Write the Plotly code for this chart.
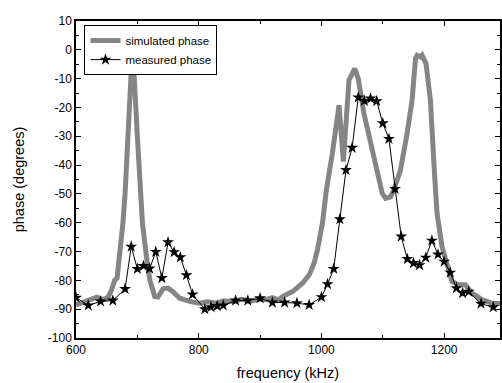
import plotly.graph_objects as go

# Simulated phase (gray thick line)
sim_freq = [600, 610, 617, 626, 634, 644, 652, 658, 663, 667, 671.5, 676.5, 680, 685, 690.5, 692.5, 694.7,
            700, 706.7, 708.3, 714.8, 720.2, 728.3, 733.6, 741.8, 749.9, 758, 768.9, 785.1, 801.4,
            815, 828.5, 840, 855.4, 870, 885, 897, 909.7, 920, 930, 936.6, 952.9, 969.1, 980, 988.1,
            993.5, 1001.6, 1008.1, 1017.8, 1028.7, 1035.7, 1044.9, 1054.2, 1060, 1069.3, 1082.8,
            1090.9, 1099, 1104.6, 1112.7, 1118, 1128.9, 1139.6, 1147.7, 1153.3, 1155.9, 1161.4,
            1164, 1170.5, 1177.6, 1184, 1188.4, 1196.5, 1204.6, 1212.7, 1223.6, 1234.5, 1245.2,
            1261.4, 1277.7, 1291]
sim_phase = [-88.5, -87.8, -87.3, -86.5, -85.8, -86.7, -86.0, -83.3, -80.0, -79.2, -71.7, -60.0, -50.0,
             -27.0, -5.3, -6.0, -8.8, -30.0, -52.0, -60.2, -71.7, -79.8, -85.6, -85.8, -82.9, -82.7,
             -83.9, -86.2, -87.3, -87.9, -87.4, -87.9, -87.2, -87.3, -86.6, -87.2, -86.5, -86.7,
             -86.0, -86.8, -85.6, -83.9, -81.0, -78.1, -74.0, -69.4, -60.2, -48.6, -35.9, -19.2,
             -38.8, -10.5, -6.5, -10.0, -22.1, -34.8, -42.9, -49.8, -51.5, -51.0, -48.6, -41.7,
             -29.0, -17.5, -3.0, -1.9, -2.5, -1.9, -4.8, -17.5, -42.0, -56.7, -68.3, -75.2, -80.4,
             -81.5, -81.5, -84.4, -86.7, -87.9, -88.0]

# Measured phase (black line with stars)
meas_freq = [600, 620, 640, 660, 680, 690, 700, 710, 720, 730, 740, 750, 760, 770, 780, 790, 810, 820,
             830, 840, 860, 880, 900, 920, 940, 960, 980, 1000, 1010, 1020, 1030, 1040, 1050, 1060,
             1070, 1080, 1090, 1100, 1110, 1120, 1130, 1140, 1150, 1160, 1170, 1180, 1190, 1200,
             1210, 1220, 1230, 1240, 1260, 1280]
meas_phase = [-86.0, -88.7, -87.3, -87.0, -83.0, -68.3, -76.0, -75.0, -75.9, -70.1, -79.2, -66.8, -70.2,
              -72.0, -78.2, -84.9, -90.0, -89.3, -88.9, -88.7, -87.0, -87.0, -86.2, -87.7, -87.7,
              -87.9, -88.5, -85.8, -81.3, -76.0, -58.8, -41.7, -34.0, -16.5, -17.7, -16.9, -17.8,
              -25.5, -30.9, -48.3, -64.8, -72.6, -74.0, -74.7, -72.1, -66.2, -71.0, -73.5, -77.3,
              -82.7, -84.4, -83.9, -88.1, -89.3]

y_tickvals = [10, 0, -10, -20, -30, -40, -50, -60, -70, -80, -90, -100]
y_ticktext = ["10", "0", "-10", "-20", "-30", "-40", "-50", "-60", "-70", "-80", "-90", "-100"]
x_tickvals = [600, 800, 1000, 1200]
x_ticktext = ["600", "800", "1000", "1200"]

FONT = "Liberation Sans, Arial, sans-serif"

fig = go.Figure()
fig.add_trace(go.Scatter(x=sim_freq, y=sim_phase, mode="lines", name="simulated phase",
                         line=dict(color="#858585", width=5)))
fig.add_trace(go.Scatter(x=meas_freq, y=meas_phase, mode="lines+markers", name="measured phase",
                         line=dict(color="black", width=1),
                         marker=dict(symbol="star", size=9, color="black")))

axis_common = dict(showline=True, linecolor="black", linewidth=1.5, mirror="ticks",
                   ticks="inside", ticklen=5, tickcolor="black", tickwidth=1,
                   showgrid=False, zeroline=False,
                   tickfont=dict(family=FONT, size=12, color="black"))

fig.update_xaxes(range=[600, 1291], tickvals=x_tickvals, ticktext=x_ticktext,
                 title=dict(text="frequency (kHz)", font=dict(family=FONT, size=14.5, color="black"),
                            standoff=12),
                 minor=dict(ticks="inside", ticklen=3, dtick=100, tick0=600, tickcolor="black",
                            showgrid=False),
                 **axis_common)
fig.update_yaxes(range=[-100, 10], tickvals=y_tickvals, ticktext=y_ticktext,
                 title=dict(text="phase (degrees)", font=dict(family=FONT, size=14.5, color="black"),
                            standoff=20),
                 minor=dict(ticks="inside", ticklen=3, dtick=5, tick0=0, tickcolor="black",
                            showgrid=False),
                 **axis_common)

fig.update_layout(
    width=502, height=383,
    margin=dict(l=76, r=0, t=21, b=45),
    paper_bgcolor="white", plot_bgcolor="white",
    font=dict(family=FONT, size=12, color="black"),
    showlegend=True,
    legend=dict(x=0.02, y=0.987, xanchor="left", yanchor="top",
                bgcolor="white", bordercolor="black", borderwidth=1,
                font=dict(family=FONT, size=11.5, color="black"),
                itemwidth=30, tracegroupgap=0),
)

fig.write_html("out.html")
